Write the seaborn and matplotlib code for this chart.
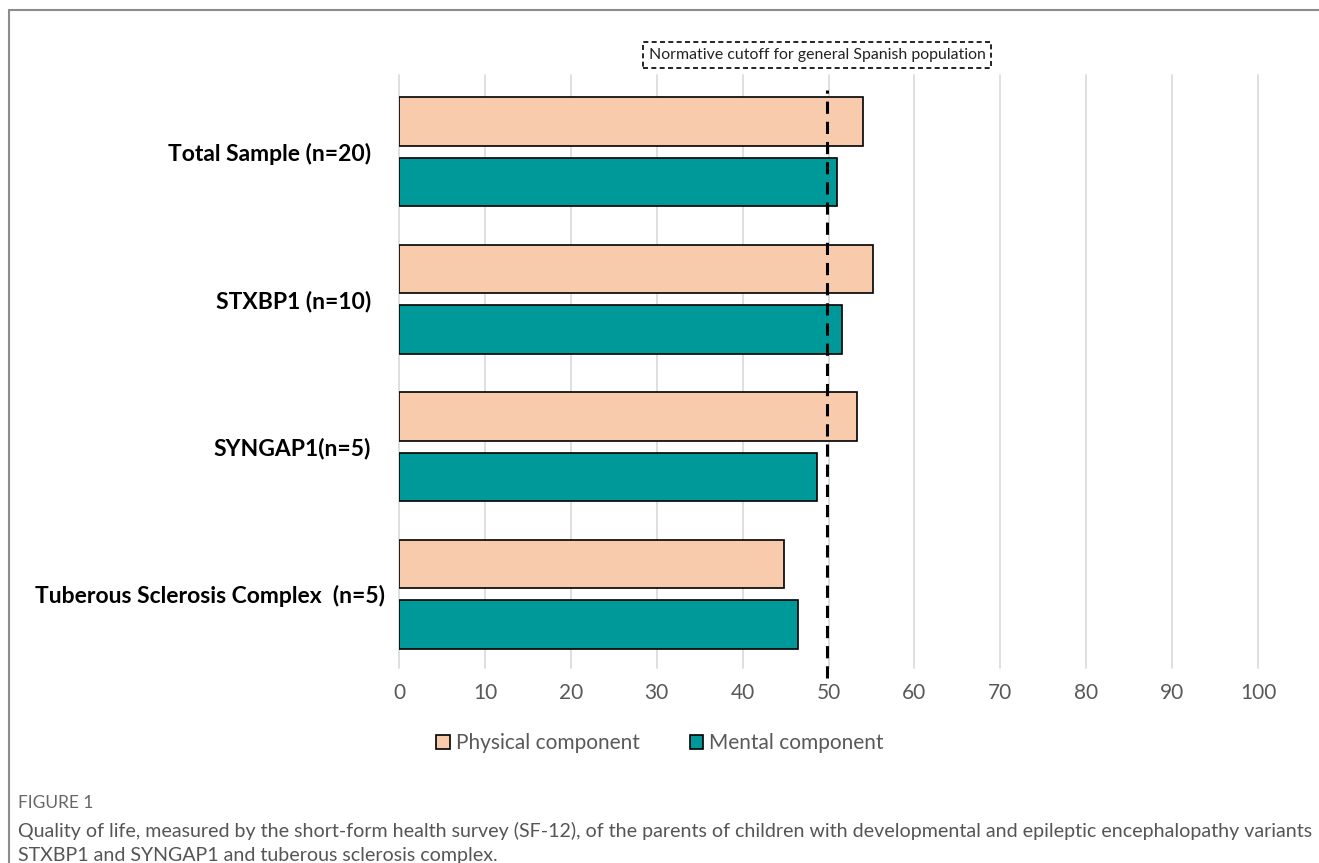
import matplotlib
matplotlib.use("Agg")
import matplotlib.pyplot as plt
import seaborn as sns
import pandas as pd
from matplotlib.patches import Patch
from matplotlib.lines import Line2D
from matplotlib.transforms import ScaledTranslation

# SF-12 summary scores per group
groups = ["Total Sample (n=20)", "STXBP1 (n=10)", "SYNGAP1(n=5)",
          "Tuberous Sclerosis Complex  (n=5)"]
components = ["Physical component", "Mental component"]
physical = [54.0, 55.2, 53.3, 44.8]
mental = [51.0, 51.6, 48.7, 46.4]
cutoff = 49.8
cutoff_label = "Normative cutoff for general Spanish population"
x_ticks = [0, 10, 20, 30, 40, 50, 60, 70, 80, 90, 100]

caption_head = "FIGURE 1"
caption_lines = [
    "Quality of life, measured by the short-form health survey (SF-12), of the parents of children with developmental and epileptic encephalopathy variants",
    "STXBP1 and SYNGAP1 and tuberous sclerosis complex.",
]

colors = ["#F8CBAD", "#009999"]

df = pd.DataFrame({
    "group": groups * 2,
    "component": [components[0]] * len(groups) + [components[1]] * len(groups),
    "score": physical + mental,
})

sns.set_theme(style="white")
plt.rcParams["font.family"] = ["Lato", "DejaVu Sans"]

W, H = 1319, 863
fig = plt.figure(figsize=(W / 100, H / 100), dpi=100)
ax = fig.add_axes([399 / W, 1 - 668 / H, (1258 - 399) / W, (668 - 78) / H])

sns.barplot(data=df, y="group", x="score", hue="component", order=groups,
            hue_order=components, palette=colors, orient="h",
            width=0.82, gap=0.2, edgecolor="black", linewidth=1.2,
            saturation=1, legend=False, ax=ax, zorder=3)

ax.set_xlim(0, 100)
ax.set_ylim(3.5, -0.5)
ax.set_xticks(x_ticks)
ax.set_xticklabels([str(t) for t in x_ticks])
ax.tick_params(axis="x", length=0, pad=11, labelsize=15, labelcolor="#595959")
ax.tick_params(axis="y", length=0, pad=20)
ylabels = ax.get_yticklabels()
for lbl in ylabels:
    lbl.set_fontweight("bold")
    lbl.set_fontsize(16.5)
    lbl.set_color("black")
# the last group label sits a little further right
ylabels[-1].set_transform(ylabels[-1].get_transform()
                          + ScaledTranslation(0.14, 0, fig.dpi_scale_trans))
ax.set_xlabel("")
ax.set_ylabel("")
for s in ax.spines.values():
    s.set_visible(False)

# vertical gridlines
for t in x_ticks:
    ax.add_line(Line2D([t, t], [3.5, -0.52], color="#D9D9D9", lw=1.2,
                       zorder=1, clip_on=False))

# normative cutoff
ax.add_line(Line2D([cutoff, cutoff], [3.57, -0.42], color="black", lw=2.2,
                   linestyle=(0, (4, 2.6)), zorder=5, clip_on=False))
fig.text(817 / W, 1 - 55 / H, cutoff_label, ha="center", va="center",
         fontsize=11.4, color="#222222",
         bbox=dict(boxstyle="square,pad=0.35", fc="white", ec="black",
                   lw=1.2, linestyle=(0, (3, 2))))

# legend
handles = [Patch(facecolor=c, edgecolor="black", linewidth=1.2) for c in colors]
leg = fig.legend(handles, components, loc="center", bbox_to_anchor=(660 / W, 1 - 743 / H),
                 ncol=2, frameon=False, fontsize=15, handlelength=0.65,
                 handleheight=0.65, handletextpad=0.3, columnspacing=2.4)
for t in leg.get_texts():
    t.set_color("#595959")

# frame lines around the figure panel
fig.add_artist(Line2D([9 / W, 1], [1 - 10.5 / H, 1 - 10.5 / H], color="#8C8C8C", lw=1.5,
                      transform=fig.transFigure))
fig.add_artist(Line2D([9 / W, 9 / W], [0, 1 - 10.5 / H], color="#8C8C8C", lw=1.5,
                      transform=fig.transFigure))

# caption
fig.text(18 / W, 1 - 803 / H, caption_head, ha="left", va="center",
         fontsize=12.5, color="#666666")
fig.text(18 / W, 1 - 831 / H, caption_lines[0], ha="left", va="center",
         fontsize=14.1, color="#555555")
fig.text(18 / W, 1 - 855 / H, caption_lines[1], ha="left", va="center",
         fontsize=14.1, color="#555555")

fig.savefig("out.png", dpi=100)
